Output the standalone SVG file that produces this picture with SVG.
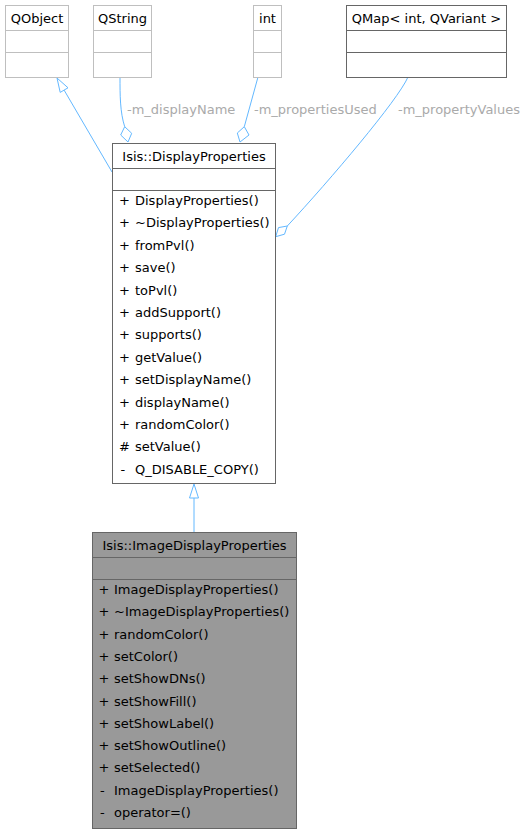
<svg xmlns="http://www.w3.org/2000/svg" width="526" height="833" viewBox="0 0 526 833">
<style>
text{font-family:"DejaVu Sans",sans-serif;font-size:13px;fill:#000}
.t{text-anchor:middle}
.lbl{fill:#aaaaaa}
.ext{fill:#fff;stroke:#bfbfbf;stroke-width:1}
.extl{stroke:#bfbfbf;stroke-width:1}
.cls{fill:#fff;stroke:#666;stroke-width:1}
.cur{fill:#999;stroke:#666;stroke-width:1}
.dl{stroke:#666;stroke-width:1}
.e{fill:none;stroke:#63b8ff;stroke-width:1}
.ah{fill:#fff;stroke:#63b8ff;stroke-width:1}
</style>
<rect width="526" height="833" fill="#fff"/>
<g id="connectors">
  <path class="e" d="M64.1,90.1 L112,172"/>
  <polygon class="ah" points="57,78 68,87.8 60.2,92.4"/>
  <path class="e" d="M120,77 C120,95 120,112 124.7,126.7"/>
  <polygon class="ah" points="128,142 131.7,133.3 124.7,126.7 120.7,135"/>
  <text class="lbl" x="127" y="114">-m_displayName</text>
  <path class="e" d="M258,77 L244.3,126.7"/>
  <polygon class="ah" points="240,142 237.3,133 244.3,126.7 249,135"/>
  <text class="lbl" x="254" y="114">-m_propertiesUsed</text>
  <path class="e" d="M408,77 C398,100 330,180 287.3,226"/>
  <polygon class="ah" points="275.7,236.7 284.5,234.2 287.3,226 278.5,227.6"/>
  <text class="lbl" x="398" y="114">-m_propertyValues</text>
  <path class="e" d="M194,498 L194,532"/>
  <polygon class="ah" points="194,484 198.5,498 189.5,498"/>
</g>
<g id="QObject">
  <rect class="ext" x="5.5" y="5.5" width="63" height="72"/>
  <line class="extl" x1="5.5" y1="30.5" x2="68.5" y2="30.5"/>
  <line class="extl" x1="5.5" y1="52.5" x2="68.5" y2="52.5"/>
  <text class="t" x="37" y="22.5">QObject</text>
</g>
<g id="QString">
  <rect class="ext" x="93.5" y="5.5" width="58" height="72"/>
  <line class="extl" x1="93.5" y1="30.5" x2="151.5" y2="30.5"/>
  <line class="extl" x1="93.5" y1="52.5" x2="151.5" y2="52.5"/>
  <text class="t" x="122.5" y="22.5">QString</text>
</g>
<g id="int">
  <rect class="ext" x="253.5" y="5.5" width="28" height="72"/>
  <line class="extl" x1="253.5" y1="30.5" x2="281.5" y2="30.5"/>
  <line class="extl" x1="253.5" y1="52.5" x2="281.5" y2="52.5"/>
  <text class="t" x="267.5" y="22.5">int</text>
</g>
<g id="QMap">
  <rect class="cls" x="346.5" y="5.5" width="160" height="72"/>
  <line class="dl" x1="346.5" y1="30.5" x2="506.5" y2="30.5"/>
  <line class="dl" x1="346.5" y1="52.5" x2="506.5" y2="52.5"/>
  <text class="t" x="426.5" y="22.5">QMap&lt; int, QVariant &gt;</text>
</g>
<g id="DisplayProperties">
  <rect class="cls" x="112.5" y="143.5" width="163" height="340"/>
  <line class="dl" x1="112.5" y1="168.5" x2="275.5" y2="168.5"/>
  <line class="dl" x1="112.5" y1="190.5" x2="275.5" y2="190.5"/>
  <text class="t" x="194" y="161">Isis::DisplayProperties</text>
  <text y="205"><tspan x="119">+ </tspan><tspan x="135">DisplayProperties()</tspan></text>
  <text y="227.4"><tspan x="119">+ </tspan><tspan x="135">~DisplayProperties()</tspan></text>
  <text y="249.8"><tspan x="119">+ </tspan><tspan x="135">fromPvl()</tspan></text>
  <text y="272.2"><tspan x="119">+ </tspan><tspan x="135">save()</tspan></text>
  <text y="294.6"><tspan x="119">+ </tspan><tspan x="135">toPvl()</tspan></text>
  <text y="317"><tspan x="119">+ </tspan><tspan x="135">addSupport()</tspan></text>
  <text y="339.4"><tspan x="119">+ </tspan><tspan x="135">supports()</tspan></text>
  <text y="361.8"><tspan x="119">+ </tspan><tspan x="135">getValue()</tspan></text>
  <text y="384.2"><tspan x="119">+ </tspan><tspan x="135">setDisplayName()</tspan></text>
  <text y="406.6"><tspan x="119">+ </tspan><tspan x="135">displayName()</tspan></text>
  <text y="429"><tspan x="119">+ </tspan><tspan x="135">randomColor()</tspan></text>
  <text y="451.4"><tspan x="119"># </tspan><tspan x="135">setValue()</tspan></text>
  <text y="473.8"><tspan x="120.5">- </tspan><tspan x="135">Q_DISABLE_COPY()</tspan></text>
</g>
<g id="ImageDisplayProperties">
  <rect class="cur" x="92.5" y="532.5" width="204" height="296"/>
  <line class="dl" x1="92.5" y1="557.5" x2="296.5" y2="557.5"/>
  <line class="dl" x1="92.5" y1="579.5" x2="296.5" y2="579.5"/>
  <text class="t" x="194.5" y="550">Isis::ImageDisplayProperties</text>
  <text y="594"><tspan x="98.5">+ </tspan><tspan x="114">ImageDisplayProperties()</tspan></text>
  <text y="616.3"><tspan x="98.5">+ </tspan><tspan x="114">~ImageDisplayProperties()</tspan></text>
  <text y="638.6"><tspan x="98.5">+ </tspan><tspan x="114">randomColor()</tspan></text>
  <text y="660.9"><tspan x="98.5">+ </tspan><tspan x="114">setColor()</tspan></text>
  <text y="683.2"><tspan x="98.5">+ </tspan><tspan x="114">setShowDNs()</tspan></text>
  <text y="705.5"><tspan x="98.5">+ </tspan><tspan x="114">setShowFill()</tspan></text>
  <text y="727.8"><tspan x="98.5">+ </tspan><tspan x="114">setShowLabel()</tspan></text>
  <text y="750.1"><tspan x="98.5">+ </tspan><tspan x="114">setShowOutline()</tspan></text>
  <text y="772.4"><tspan x="98.5">+ </tspan><tspan x="114">setSelected()</tspan></text>
  <text y="794.7"><tspan x="100">- </tspan><tspan x="114">ImageDisplayProperties()</tspan></text>
  <text y="817"><tspan x="100">- </tspan><tspan x="114">operator=()</tspan></text>
</g>
</svg>
